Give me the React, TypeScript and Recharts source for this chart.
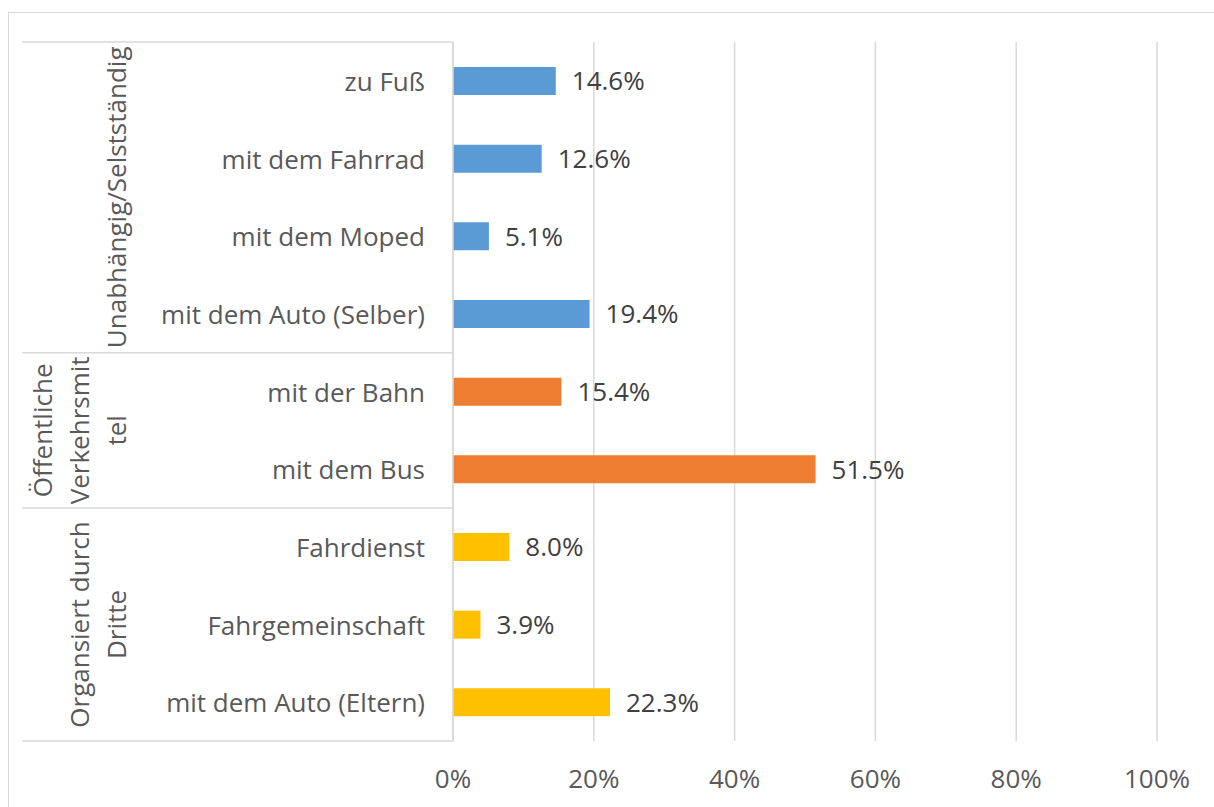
import { Bar, BarChart, CartesianGrid, Cell, LabelList, XAxis, YAxis } from "recharts";

const categories = [
  "zu Fuß",
  "mit dem Fahrrad",
  "mit dem Moped",
  "mit dem Auto (Selber)",
  "mit der Bahn",
  "mit dem Bus",
  "Fahrdienst",
  "Fahrgemeinschaft",
  "mit dem Auto (Eltern)",
];
const shares = [14.6, 12.6, 5.1, 19.4, 15.4, 51.5, 8.0, 3.9, 22.3];
const groupOf = [0, 0, 0, 0, 1, 1, 2, 2, 2];
const groupLabels = [
  ["Unabhängig/Selstständig"],
  ["Öffentliche", "Verkehrsmit", "tel"],
  ["Organsiert durch", "Dritte"],
];
const groupColors = ["#5B9BD5", "#ED7D31", "#FFC000"];
const xTicks = [0, 20, 40, 60, 80, 100];

const data = categories.map((name, i) => ({ name, value: shares[i], group: groupOf[i] }));

const W = 1214;
const H = 807;
const M = { top: 42, right: 57, bottom: 0, left: 0 };
const Y_AXIS_W = 453;
const X_AXIS_H = 66;
const band = (H - M.top - M.bottom - X_AXIS_H) / categories.length;

const font = "'Open Sans', sans-serif";
const grey = "#595959";
const rule = "#d9d9d9";

function CategoryTick(props: any) {
  const { x, y, payload, index } = props;
  const g = groupOf[index];
  const first = index === 0 || groupOf[index - 1] !== g;
  const last = index === categories.length - 1;
  const boxLeft = x - 403;
  const axisX = x + 28;
  const count = groupOf.filter((v) => v === g).length;
  const lines = groupLabels[g];
  const cy = y + ((count - 1) * band) / 2;
  return (
    <g>
      <text x={x} y={y} textAnchor="end" dominantBaseline="central" fill={grey} fontSize={26} fontFamily={font}>
        {payload.value}
      </text>
      {first && <line x1={boxLeft} x2={axisX} y1={y - band / 2} y2={y - band / 2} stroke={rule} strokeWidth={1.5} />}
      {last && <line x1={boxLeft} x2={axisX} y1={y + band / 2} y2={y + band / 2} stroke={rule} strokeWidth={1.5} />}
      {first &&
        lines.map((ln, k) => {
          const lx = boxLeft + 94 - (lines.length - 1 - k) * 37;
          return (
            <text
              key={ln}
              x={lx}
              y={cy}
              transform={`rotate(-90 ${lx} ${cy})`}
              textAnchor="middle"
              dominantBaseline="central"
              fill={grey}
              fontSize={26}
              fontFamily={font}
            >
              {ln}
            </text>
          );
        })}
    </g>
  );
}

export default function App() {
  return (
    <div style={{ position: "relative", width: W, height: H, overflow: "hidden", background: "#fff" }}>
      <style>{`body{margin:0;overflow:hidden}`}</style>
      <div
        style={{
          position: "absolute",
          left: 8,
          top: 12,
          width: 1300,
          height: 900,
          border: `1.5px solid ${rule}`,
        }}
      />
      <div style={{ position: "absolute", left: 0, top: 0 }}>
        <BarChart width={W} height={H} data={data} layout="vertical" margin={M}>
          <CartesianGrid horizontal={false} stroke={rule} strokeWidth={1.5} />
          <XAxis
            type="number"
            domain={[0, 100]}
            ticks={xTicks}
            tickFormatter={(v) => `${v}%`}
            axisLine={false}
            tickLine={false}
            height={X_AXIS_H}
            tickMargin={23}
            tick={{ fill: grey, fontSize: 26, fontFamily: font }}
          />
          <YAxis
            type="category"
            dataKey="name"
            width={Y_AXIS_W}
            axisLine={{ stroke: rule, strokeWidth: 1.5 }}
            tickLine={false}
            tickMargin={22}
            interval={0}
            tick={<CategoryTick />}
          />
          <Bar dataKey="value" barSize={28} isAnimationActive={false}>
            {data.map((d) => (
              <Cell key={d.name} fill={groupColors[d.group]} />
            ))}
            <LabelList
              dataKey="value"
              position="right"
              offset={16}
              formatter={(v: any) => `${Number(v).toFixed(1)}%`}
              style={{ fill: "#404040", fontSize: 26, fontFamily: font }}
            />
          </Bar>
        </BarChart>
      </div>
    </div>
  );
}
